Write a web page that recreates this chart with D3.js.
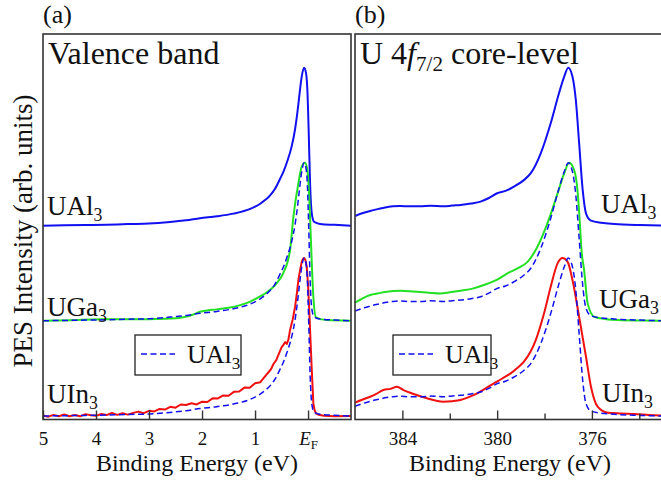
<!DOCTYPE html>
<html>
<head>
<meta charset="utf-8">
<script src="https://cdn.jsdelivr.net/npm/d3@7"></script>
<style>
  html, body { margin: 0; padding: 0; background: #fff; }
  svg { display: block; }
  #chart text, #chart tspan { font-family: "Liberation Serif" !important; }
</style>
</head>
<body>
<svg id="chart" width="661" height="481" font-family="Liberation Serif"></svg>
<script>
// ---------- Valence band spectra (binding energy in eV, intensity normalised to peak = 100) ----------
const vbEnergyUAl = [5.0, 4.6, 4.2, 3.8, 3.4, 3.0, 2.6, 2.3, 2.04, 1.72, 1.41, 1.09, 0.91, 0.80, 0.72, 0.62,
  0.53, 0.46, 0.40, 0.31, 0.245, 0.20, 0.164, 0.119, 0.075, 0.038, 0.013, -0.013, -0.038, -0.07, -0.113,
  -0.226, -0.5, -0.81];
const vbUAl = [0, 0.2, 0.4, 0.6, 1.0, 1.3, 2.3, 3.4, 4.7, 5.9, 7.6, 10.6, 13.7, 16.5, 19.0, 23.5,
  29.5, 34.5, 40.0, 50.0, 61.0, 72.0, 82.5, 94.5, 100, 96.5, 85.9, 58.5, 26.8, 7.8, 2.5,
  1.1, 0.5, 0];

const vbEnergyUGa = [5.0, 4.5, 3.9, 3.4, 3.0, 2.6, 2.35, 2.15, 2.04, 1.9, 1.72, 1.5, 1.28, 1.1, 0.97, 0.72,
  0.6, 0.47, 0.34, 0.277, 0.183, 0.119, 0.057, 0.013, -0.025, -0.051, -0.1, -0.15, -0.35, -0.81];
const vbUGa = [0, 0.3, 0.9, 0.9, 1.0, 1.4, 2.2, 4.1, 5.7, 6.5, 7.2, 8.2, 9.9, 12.0, 14.2, 19.4,
  23.4, 30.0, 44.7, 65.8, 87, 97.5, 100, 95.4, 76.4, 53.2, 15.2, 2.2, 0.4, 0];

const vbEnergyUIn = [5.0, 4.9, 4.8, 4.7, 4.6, 4.5, 4.4, 4.3, 4.2, 4.1, 4.0, 3.9, 3.8, 3.7, 3.6, 3.5, 3.4,
  3.3, 3.2, 3.1, 3.0, 2.9, 2.8, 2.7, 2.6, 2.5, 2.4, 2.3, 2.2, 2.1, 2.0, 1.9, 1.8, 1.7, 1.6, 1.5, 1.4,
  1.3, 1.2, 1.1, 1.0, 0.9, 0.8, 0.7, 0.65, 0.6, 0.55, 0.5, 0.466, 0.43, 0.40, 0.37, 0.34, 0.29, 0.245,
  0.21, 0.183, 0.15, 0.119, 0.09, 0.075, 0.05, 0.025, 0.0, -0.025, -0.05, -0.07, -0.1, -0.125, -0.15,
  -0.2, -0.3, -0.5, -0.81];
const vbUIn = [0.4, -0.4, 0.7, -0.1, 1.0, -0.1, 0.6, -0.2, 1.2, 0.5, 0.1, 1.3, 0.6, 1.9, 0.7, 1.8, 0.9,
  2.0, 2.8, 1.8, 3.3, 2.9, 4.5, 4.1, 5.8, 5.3, 7.3, 7.0, 8.1, 7.3, 9.1, 8.9, 11.2, 11.1, 13.0, 12.8, 15.3,
  15.5, 18.0, 17.9, 20.8, 21.4, 25.6, 29.6, 33.1, 35.4, 39.5, 43.5, 45.0, 46.8, 45.6, 48.5, 54.4, 61, 69.2,
  78, 86.1, 92.5, 97.7, 99.7, 100, 98.8, 94.5, 83, 65, 45, 29.1, 8, 3.5, 1.7,
  0.8, 0.2, -0.2, 0];

// ---------- U 4f7/2 core-level spectra ----------
const clEnergyUAl = [386.0, 385.7, 385.36, 385.0, 384.73, 384.4, 384.09, 383.7, 383.25, 382.8, 382.27, 381.9,
  381.55, 381.1, 380.70, 380.35, 380.0, 379.65, 379.29, 378.9, 378.58, 378.16, 377.74, 377.39, 377.17, 377.0,
  376.82, 376.68, 376.54, 376.39, 376.25, 376.04, 375.6, 375.05, 374.0, 373.0];
const clUAl = [6.1, 7.8, 9.3, 10.6, 11.5, 12.2, 12.5, 12.2, 12.2, 12.6, 12.2, 12.7,
  13.1, 14.0, 15.2, 17.5, 20.5, 22.0, 24.7, 28.5, 33.2, 45.8, 64.8, 83.8, 94.3, 100,
  94.3, 79.6, 52.2, 22.6, 7.8, 3.2, 1.8, 1.1, 0.4, 0];

const clEnergyUGa = [386.0, 385.7, 385.36, 385.0, 384.73, 384.4, 384.09, 383.7, 383.39, 382.9, 382.40, 382.0,
  381.55, 381.0, 380.56, 380.0, 379.57, 379.1, 378.72, 378.30, 377.88, 377.45, 377.17, 376.96, 376.75, 376.61,
  376.50, 376.44, 376.33, 376.18, 375.90, 375.4, 374.91, 374.0, 373.0];
const clUGa = [11.4, 14.0, 16.3, 17.4, 18.2, 18.8, 19.0, 18.6, 18.4, 17.8, 17.3, 18.0,
  19.0, 20.5, 22.6, 26.0, 30.0, 33.5, 37.3, 46.8, 61.6, 80.6, 93.3, 100, 95.4, 82.7,
  59.5, 44.7, 32.1, 11.0, 2.5, 1.0, 0.4, 0.1, 0];

const clEnergyUIn = [386.0, 385.7, 385.36, 385.1, 384.80, 384.5, 384.23, 383.95, 383.67, 383.3, 382.96, 382.6,
  382.26, 381.9, 381.55, 381.2, 380.84, 380.5, 380.14, 379.8, 379.43, 379.15, 378.87, 378.6, 378.37, 378.02,
  377.74, 377.45, 377.24, 377.03, 376.82, 376.54, 376.25, 376.04, 375.76, 375.33, 374.8, 374.21, 373.6, 373.0];
const clUIn = [8.5, 10.3, 12.2, 14.0, 16.5, 17.2, 18.5, 16.4, 14.7, 12.8, 11.2, 9.8,
  9.1, 9.4, 10.1, 12.0, 14.4, 17.4, 20.7, 23.6, 27.0, 30.4, 34.4, 40.5, 48.1, 65.0,
  81.8, 96.6, 100, 97.7, 86.1, 62.8, 37.5, 18.5, 5.9, 2.1, 1.6, 1.3, 0.7, 0.2];

// Vertical stacking offsets of the three compounds (same units as intensity)
const offsetUAl = 122.7;
const offsetUGa = 62.5;
const offsetUIn = 2.2;

// Axis ticks
const vbTicks = [5, 4, 3, 2, 1, 0];
const vbTickLabels = ["5", "4", "3", "2", "1", "EF"];
const clMajorTicks = [384, 380, 376];
const clMinorTicks = [382, 378, 374];

// ---------- drawing ----------
const FONT = "Liberation Serif";
const svg = d3.select("#chart");
const plotTop = 34, plotBottom = 419.5;
const panelA = { left: 43, right: 351 };
const panelB = { left: 355, right: 663 };

const y = d3.scaleLinear().domain([0, 244]).range([plotBottom, plotTop]);
const xA = d3.scaleLinear().domain([5, -0.81]).range([panelA.left, panelA.right]);
const xB = d3.scaleLinear().domain([386, 373]).range([panelB.left, panelB.right]);

const BLUE = "#1010f0", GREEN = "#22e022", RED = "#f01010";

function clip(id, p) {
  svg.append("clipPath").attr("id", id).append("rect")
    .attr("x", p.left).attr("y", plotTop).attr("width", p.right - p.left).attr("height", plotBottom - plotTop);
}
clip("clipA", panelA);
clip("clipB", panelB);

function drawSeries(g, x, energies, values, offset, color, dashed, curve) {
  const pts = energies.map((e, i) => [e, values[i] + offset]);
  const line = d3.line().x(d => x(d[0])).y(d => y(d[1])).curve(curve || d3.curveMonotoneX);
  g.append("path").datum(pts)
    .attr("d", line)
    .attr("fill", "none")
    .attr("stroke", color)
    .attr("stroke-width", dashed ? 1.5 : 2)
    .attr("stroke-dasharray", dashed ? "6,3.5" : null)
    .attr("stroke-linejoin", "round");
}

// Text with optional italic / subscript parts
function richText(g, x, yy, parts, size, anchor) {
  const t = g.append("text").attr("x", x).attr("y", yy).attr("font-size", size)
    .attr("text-anchor", anchor || "start");
  let shifted = 0;
  parts.forEach(p => {
    const s = t.append("tspan").text(p.t);
    if (p.it) s.attr("font-style", "italic");
    if (p.sub) {
      s.attr("font-size", size * 0.66).attr("dy", size * 0.22 - shifted);
      shifted = size * 0.22;
    } else if (shifted) {
      s.attr("dy", -shifted);
      shifted = 0;
    }
  });
  return t;
}
function plainText(x, yy, str, size, anchor, transform) {
  const t = svg.append("text").attr("font-size", size)
    .attr("text-anchor", anchor || "start").text(str);
  if (transform) t.attr("transform", transform); else t.attr("x", x).attr("y", yy);
  return t;
}

// Panel (a): valence band
const gA = svg.append("g").attr("clip-path", "url(#clipA)");
drawSeries(gA, xA, vbEnergyUAl, vbUAl, offsetUAl, BLUE, false);
drawSeries(gA, xA, vbEnergyUGa, vbUGa, offsetUGa, GREEN, false);
drawSeries(gA, xA, vbEnergyUAl, vbUAl, offsetUGa, BLUE, true);
drawSeries(gA, xA, vbEnergyUIn, vbUIn, offsetUIn, RED, false, d3.curveLinear);
drawSeries(gA, xA, vbEnergyUAl, vbUAl, offsetUIn, BLUE, true);

// Panel (b): core level
const gB = svg.append("g").attr("clip-path", "url(#clipB)");
drawSeries(gB, xB, clEnergyUAl, clUAl, offsetUAl, BLUE, false);
drawSeries(gB, xB, clEnergyUGa, clUGa, offsetUGa, GREEN, false);
drawSeries(gB, xB, clEnergyUAl, clUAl, offsetUGa, BLUE, true);
drawSeries(gB, xB, clEnergyUIn, clUIn, offsetUIn, RED, false);
drawSeries(gB, xB, clEnergyUAl, clUAl, offsetUIn, BLUE, true);

// Frames
[panelA, panelB].forEach(p => {
  svg.append("rect").attr("x", p.left).attr("y", plotTop)
    .attr("width", p.right - p.left).attr("height", plotBottom - plotTop)
    .attr("fill", "none").attr("stroke", "#333").attr("stroke-width", 1.6);
});

// Axes (ticks pointing inward)
const axA = svg.append("g").attr("transform", `translate(0,${plotBottom})`)
  .call(d3.axisBottom(xA).tickValues(vbTicks).tickSize(-9).tickPadding(12)
    .tickFormat((d, i) => vbTickLabels[i]));
const axBmin = svg.append("g").attr("transform", `translate(0,${plotBottom})`)
  .call(d3.axisBottom(xB).tickValues(clMinorTicks).tickSize(-6).tickFormat(""));
const axB = svg.append("g").attr("transform", `translate(0,${plotBottom})`)
  .call(d3.axisBottom(xB).tickValues(clMajorTicks).tickSize(-9).tickPadding(12));

[axA, axB, axBmin].forEach(ax => {
  ax.attr("font-family", FONT).attr("font-size", 19);
  ax.select(".domain").remove();
  ax.selectAll(".tick line").attr("stroke", "#333").attr("stroke-width", 1.4);
  ax.selectAll(".tick text").attr("font-size", 19);
});
// Fermi level label E_F
axA.selectAll(".tick text").filter(d => d === 0).each(function () {
  const t = d3.select(this).text(null);
  t.append("tspan").attr("font-style", "italic").text("E");
  t.append("tspan").attr("font-size", 13).attr("dy", 4).text("F");
});

// Axis titles
plainText((panelA.left + panelA.right) / 2, 471, "Binding Energy (eV)", 24, "middle");
plainText(510, 471, "Binding Energy (eV)", 24, "middle");
plainText(0, 0, "PES Intensity (arb. units)", 27, "middle", "translate(32,231) rotate(-90)");

// Panel tags and titles
plainText(43, 23, "(a)", 26);
plainText(355, 23, "(b)", 26);
plainText(48, 64, "Valence band", 32);
richText(svg, 360, 64, [{ t: "U 4" }, { t: "f", it: true }, { t: "7/2", sub: true }, { t: " core-level" }], 32);

// Compound labels
const cmp = (name, x, yy) => richText(svg, x, yy, [{ t: name }, { t: "3", sub: true }], 27);
cmp("UAl", 47, 215); cmp("UGa", 47, 316); cmp("UIn", 47, 403);
cmp("UAl", 601, 213); cmp("UGa", 599, 308); cmp("UIn", 602, 402);

// Legends
function legend(x0, x1) {
  const g = svg.append("g");
  g.append("rect").attr("x", x0).attr("y", 335).attr("width", x1 - x0).attr("height", 40)
    .attr("fill", "#fff").attr("stroke", "#222").attr("stroke-width", 1.3);
  g.append("line").attr("x1", x0 + 6).attr("x2", x0 + 40).attr("y1", 354).attr("y2", 354)
    .attr("stroke", BLUE).attr("stroke-width", 1.5).attr("stroke-dasharray", "6,3.5");
  richText(g, x0 + 52, 363, [{ t: "UAl" }, { t: "3", sub: true }], 26);
}
legend(135, 241);
legend(393, 491);

// Serif typeface and ink colour for every label
svg.selectAll("text, tspan").attr("font-family", FONT)
  .style("font-family", `"${FONT}"`).style("fill", "#111");
</script>
</body>
</html>
